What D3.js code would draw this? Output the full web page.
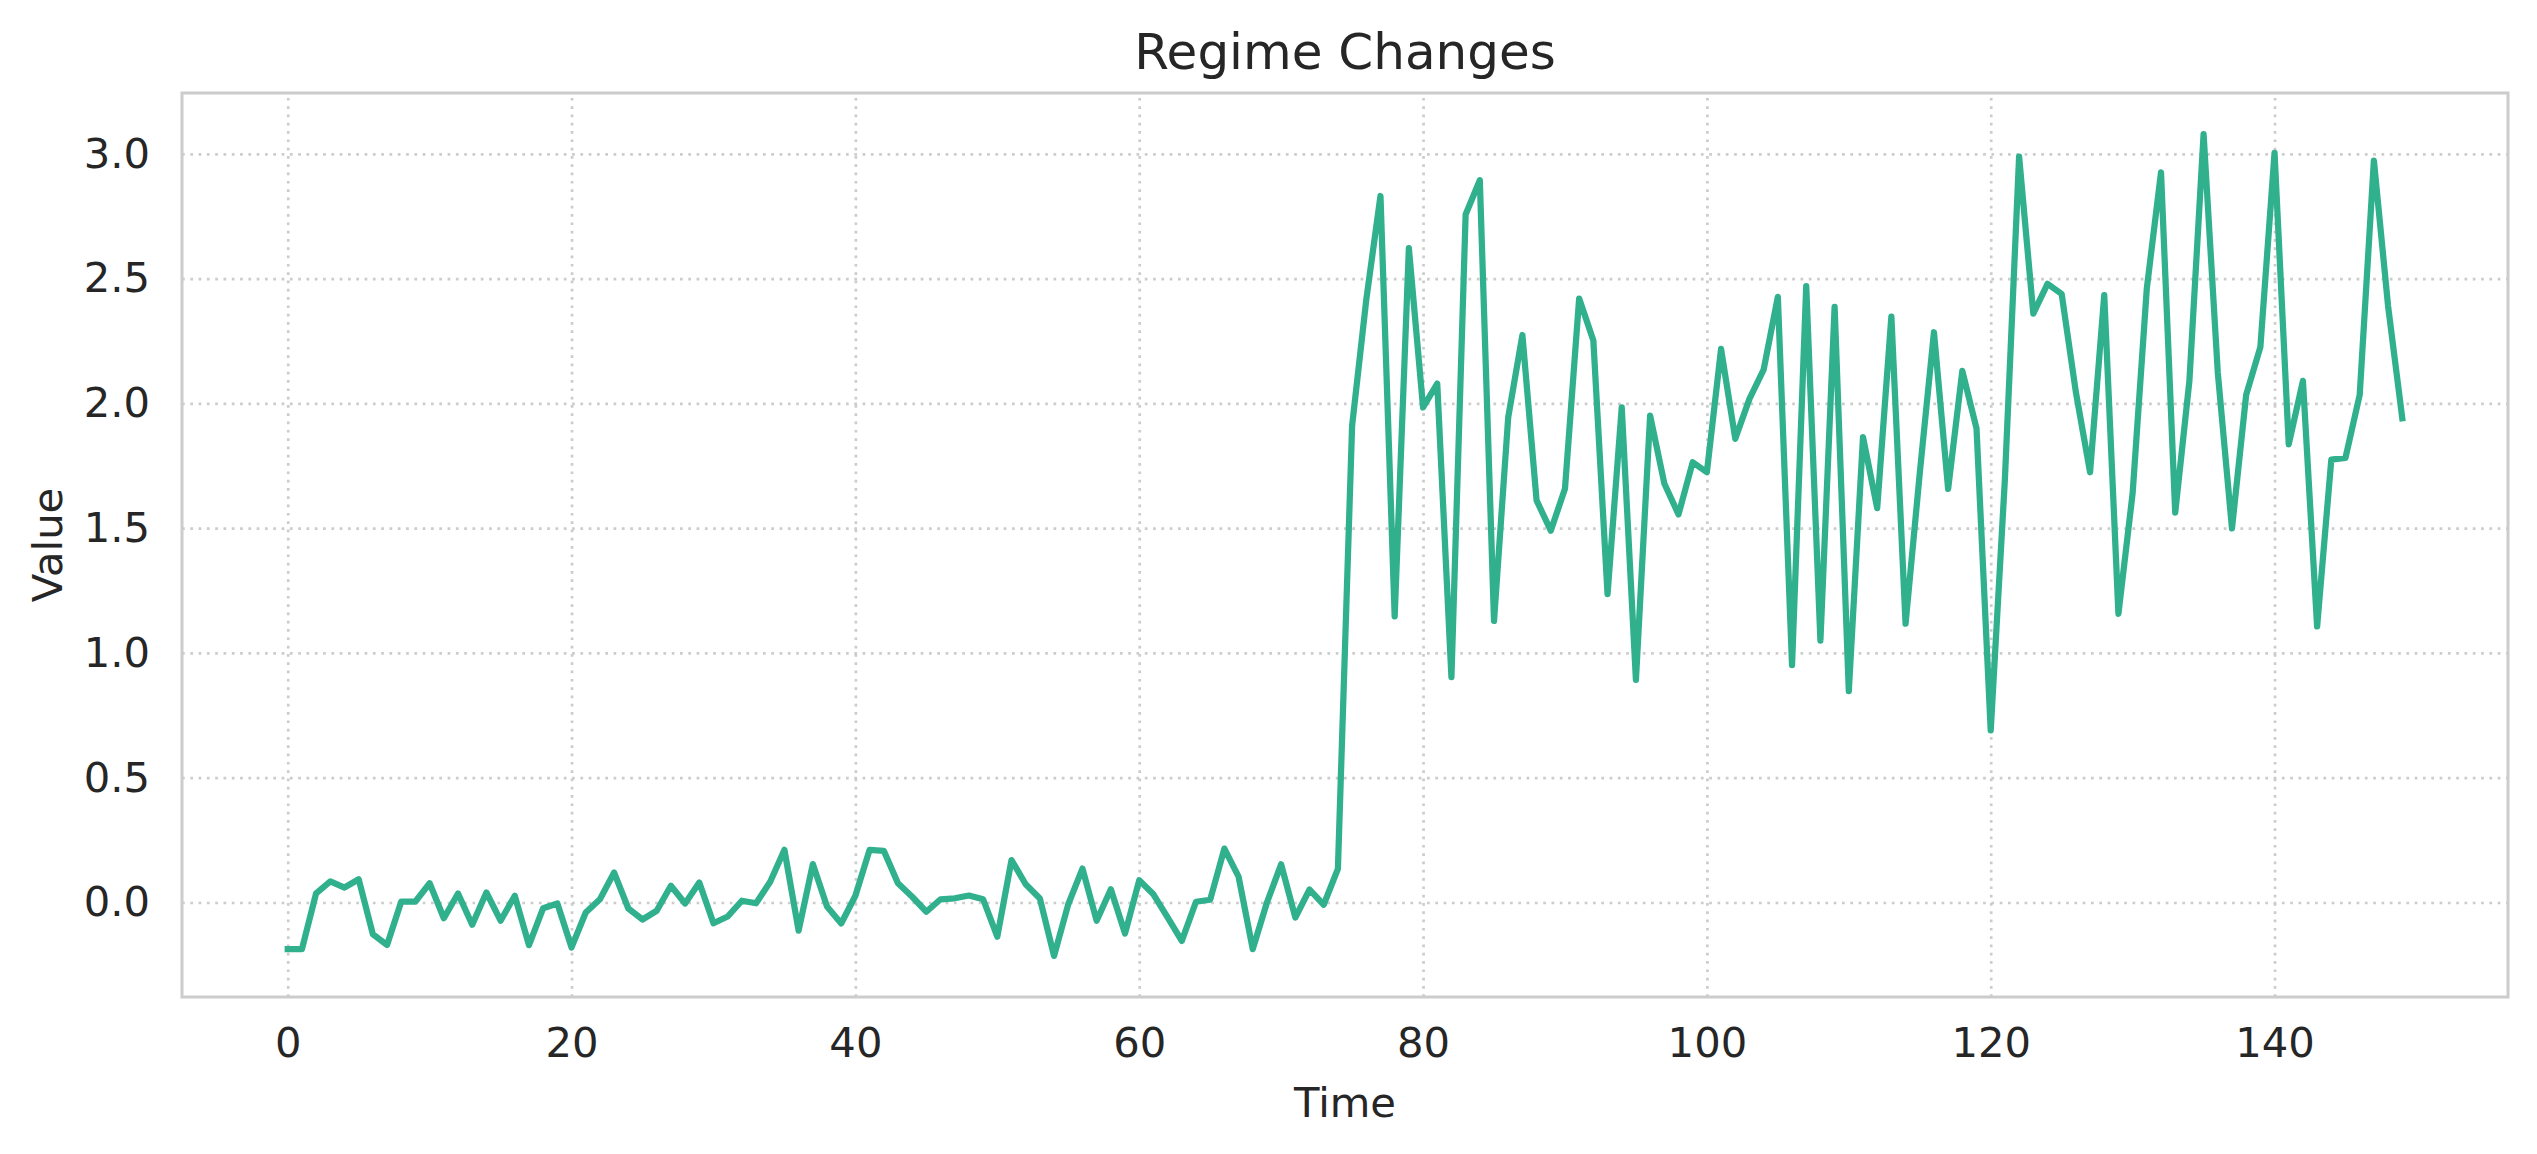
<!DOCTYPE html>
<html>
<head>
<meta charset="utf-8">
<script src="https://cdn.jsdelivr.net/npm/d3@7"></script>
<style>
  html, body { margin: 0; padding: 0; background: #ffffff; }
  svg { display: block; }
  text { font-family: "DejaVu Sans", sans-serif; fill: #262626; }
</style>
</head>
<body>
<svg id="chart" width="2537" height="1154"></svg>
<script>
const title = "Regime Changes";
const xLabel = "Time";
const yLabel = "Value";
const xTicks = [0, 20, 40, 60, 80, 100, 120, 140];
const yTicks = [0.0, 0.5, 1.0, 1.5, 2.0, 2.5, 3.0];
const values = [
  -0.187, -0.187, 0.037, 0.085, 0.060, 0.093, -0.127, -0.170, 0.004, 0.004,
  0.077, -0.063, 0.036, -0.089, 0.040, -0.073, 0.027, -0.171, -0.023, -0.004,
  -0.180, -0.040, 0.013, 0.120, -0.024, -0.068, -0.033, 0.067, -0.004, 0.080,
  -0.083, -0.056, 0.007, -0.003, 0.083, 0.211, -0.113, 0.154, -0.016, -0.084,
  0.027, 0.211, 0.207, 0.077, 0.023, -0.037, 0.013, 0.017, 0.028, 0.013,
  -0.137, 0.170, 0.073, 0.016, -0.214, -0.007, 0.136, -0.073, 0.053, -0.124,
  0.089, 0.033, -0.060, -0.154, 0.003, 0.011, 0.216, 0.104, -0.187, 0.000,
  0.153, -0.060, 0.052, -0.009, 0.135, 1.910, 2.416, 2.831, 1.146, 2.622,
  1.984, 2.079, 0.903, 2.757, 2.894, 1.128, 1.944, 2.274, 1.611, 1.490,
  1.658, 2.420, 2.252, 1.236, 1.984, 0.892, 1.951, 1.679, 1.555, 1.764,
  1.724, 2.218, 1.858, 2.018, 2.135, 2.427, 0.951, 2.470, 1.049, 2.387,
  0.847, 1.865, 1.580, 2.348, 1.117, 1.720, 2.285, 1.657, 2.130, 1.899,
  0.690, 1.697, 2.989, 2.360, 2.479, 2.438, 2.045, 1.724, 2.434, 1.157,
  1.640, 2.461, 2.926, 1.562, 2.090, 3.079, 2.124, 1.499, 2.034, 2.225,
  3.004, 1.836, 2.090, 1.106, 1.775, 1.782, 2.034, 2.973, 2.390, 1.940
];
const times = values.map((v, i) => i);

const W = 2537, H = 1154;
const margin = { left: 182, right: 29, top: 93, bottom: 157 };
const iw = W - margin.left - margin.right;
const ih = H - margin.top - margin.bottom;

const svg = d3.select("#chart");
const g = svg.append("g").attr("transform", `translate(${margin.left},${margin.top})`);

const [xmin, xmax] = d3.extent(times);
const xpad = (xmax - xmin) * 0.05;
const [ymin, ymax] = d3.extent(values);
const ypad = (ymax - ymin) * 0.05;

const x = d3.scaleLinear().domain([xmin - xpad, xmax + xpad]).range([0, iw]);
const y = d3.scaleLinear().domain([ymin - ypad, ymax + ypad]).range([ih, 0]);

const gridStyle = sel => sel.attr("stroke", "#cccccc").attr("stroke-width", 2.7).attr("stroke-dasharray", "2.7 5.6");

// grid via axes
const xGrid = g.append("g").attr("transform", `translate(0,${ih})`)
  .call(d3.axisBottom(x).tickValues(xTicks).tickSize(-ih).tickFormat(""));
xGrid.select(".domain").remove();
xGrid.selectAll("line").call(gridStyle);

const yGrid = g.append("g")
  .call(d3.axisLeft(y).tickValues(yTicks).tickSize(-iw).tickFormat(""));
yGrid.select(".domain").remove();
yGrid.selectAll("line").call(gridStyle);

// tick labels via axes
const xAxis = g.append("g").attr("transform", `translate(0,${ih})`)
  .call(d3.axisBottom(x).tickValues(xTicks).tickSize(0).tickPadding(30).tickFormat(d3.format("d")));
xAxis.select(".domain").remove();
xAxis.selectAll("text").attr("font-size", 41.7).attr("font-family", "DejaVu Sans").attr("fill", "#262626").attr("dy", "0.71em");

const yAxis = g.append("g")
  .call(d3.axisLeft(y).tickValues(yTicks).tickSize(0).tickPadding(32).tickFormat(d3.format(".1f")));
yAxis.select(".domain").remove();
yAxis.selectAll("text").attr("font-size", 41.7).attr("font-family", "DejaVu Sans").attr("fill", "#262626");

// line
const line = d3.line().x((d, i) => x(times[i])).y(d => y(d));
g.append("path").datum(values)
  .attr("fill", "none")
  .attr("stroke", "#31b08e")
  .attr("stroke-width", 6.25)
  .attr("stroke-linejoin", "round")
  .attr("stroke-linecap", "square")
  .attr("d", line);

// spines
g.append("rect").attr("x", 0).attr("y", 0).attr("width", iw).attr("height", ih)
  .attr("fill", "none").attr("stroke", "#cccccc").attr("stroke-width", 3);

// title and labels
svg.append("text").attr("x", margin.left + iw / 2).attr("y", 69)
  .attr("text-anchor", "middle").attr("font-size", 50).text(title);
svg.append("text").attr("x", margin.left + iw / 2).attr("y", 1117)
  .attr("text-anchor", "middle").attr("font-size", 41.7).text(xLabel);
svg.append("text").attr("transform", `translate(62,${margin.top + ih / 2}) rotate(-90)`)
  .attr("text-anchor", "middle").attr("font-size", 41.7).text(yLabel);
</script>
</body>
</html>
